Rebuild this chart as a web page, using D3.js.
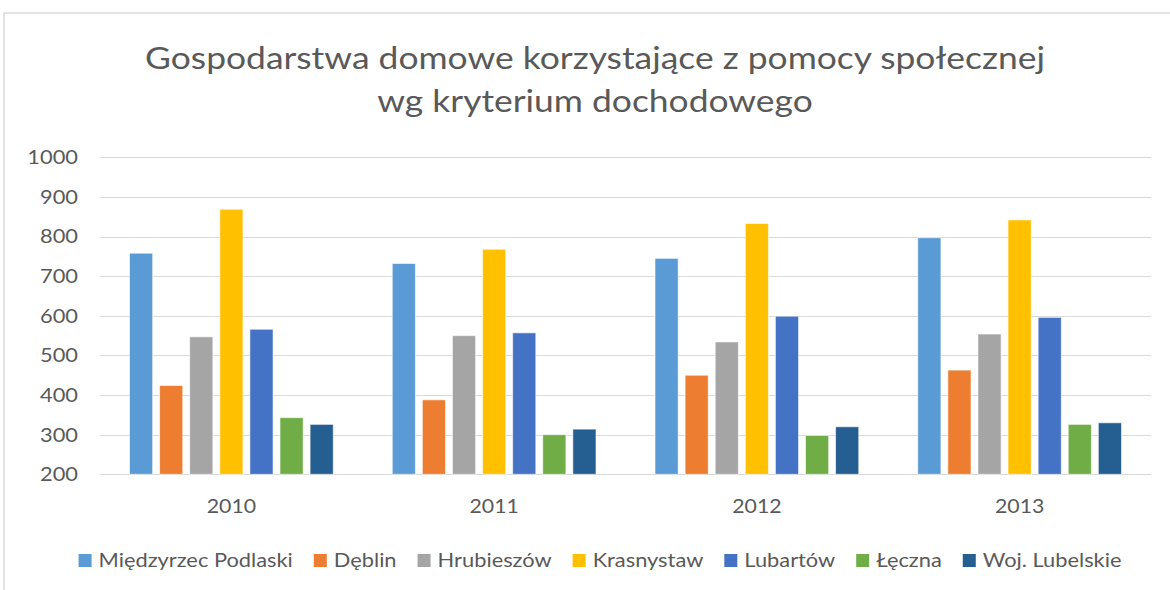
<!DOCTYPE html>
<html>
<head>
<meta charset="utf-8">
<script src="https://cdn.jsdelivr.net/npm/d3@7"></script>
<style>
  body { margin: 0; background: #fff; }
  svg { display: block; font-family: Lato, "Open Sans", sans-serif; }
  .grid line { stroke: #d9d9d9; stroke-width: 1; }
  .lbl { fill: #595959; }
</style>
</head>
<body>
<svg id="chart" width="1170" height="590"></svg>
<script>
const years = ['2010', '2011', '2012', '2013']
const series = ['Międzyrzec Podlaski', 'Dęblin', 'Hrubieszów', 'Krasnystaw', 'Lubartów', 'Łęczna', 'Woj. Lubelskie']
const colors = ['#5b9bd5', '#ed7d31', '#a5a5a5', '#ffc000', '#4472c4', '#70ad47', '#255e91']

// values per series, one per year
const miedzyrzec = [758, 732, 745, 797]
const deblin = [424, 388, 450, 463]
const hrubieszow = [547, 550, 534, 554]
const krasnystaw = [869, 768, 833, 842]
const lubartow = [566, 557, 599, 596]
const leczna = [343, 300, 298, 326]
const wojLubelskie = [326, 314, 320, 330]
const yTicks = [200, 300, 400, 500, 600, 700, 800, 900, 1000]

const values = [miedzyrzec, deblin, hrubieszow, krasnystaw, lubartow, leczna, wojLubelskie]
const title = ['Gospodarstwa domowe korzystające z pomocy społecznej', 'wg kryterium dochodowego']

const SX = 1.12 // the picture's text is a bit wider than the fonts here

const svg = d3.select('#chart')

svg.append('rect')
    .attr('x', 4).attr('y', 13)
    .attr('width', 1300).attr('height', 700)
    .attr('fill', 'none')
    .attr('stroke', '#d9d9d9')
    .attr('stroke-width', 1.5)

const plotLeft = 100, plotRight = 1151, plotTop = 157.3, plotBottom = 474.3

const y = d3.scaleLinear().domain([200, 1000]).range([plotBottom, plotTop])
const x0 = d3.scaleBand().domain(years).range([plotLeft, plotRight])
const x1 = d3.scaleBand().domain(series).range([0, x0.bandwidth()])
    .paddingInner(0.23).paddingOuter(0.98)

function stretchText(sel, tx, ty) {
    sel.attr('transform', (d, i) => `translate(${tx(d, i)},${ty(d, i)}) scale(${SX},1)`)
}

// gridlines
svg.append('g').attr('class', 'grid')
    .selectAll('line')
    .data(yTicks)
    .enter().append('line')
    .attr('x1', plotLeft).attr('x2', plotRight)
    .attr('y1', d => Math.round(y(d)) + 0.5)
    .attr('y2', d => Math.round(y(d)) + 0.5)

// y labels
svg.append('g')
    .selectAll('text')
    .data(yTicks)
    .enter().append('text')
    .attr('class', 'lbl')
    .attr('text-anchor', 'end')
    .attr('font-size', 19.5)
    .attr('dy', '0.35em')
    .text(d => d)
    .call(stretchText, () => 78, d => y(d))

// bars
const groups = svg.append('g')
    .selectAll('g')
    .data(years)
    .enter().append('g')
    .attr('transform', d => `translate(${x0(d)},0)`)

groups.selectAll('rect')
    .data((yr, yi) => series.map((s, si) => ({ s, si, v: values[si][yi] })))
    .enter().append('rect')
    .attr('x', d => x1(d.s))
    .attr('width', x1.bandwidth())
    .attr('y', d => y(d.v))
    .attr('height', d => plotBottom - y(d.v))
    .attr('fill', d => colors[d.si])
    .attr('stroke', '#fff')
    .attr('stroke-opacity', 0.6)
    .attr('stroke-width', 1)

// x labels
svg.append('g')
    .selectAll('text')
    .data(years)
    .enter().append('text')
    .attr('class', 'lbl')
    .attr('text-anchor', 'middle')
    .attr('font-size', 19)
    .text(d => d)
    .call(stretchText, d => x0(d) + x0.bandwidth() / 2, () => 513)

// title, sized so the first line is as wide as in the picture
const titleText = svg.append('g')
    .selectAll('text')
    .data(title)
    .enter().append('text')
    .attr('class', 'lbl')
    .attr('text-anchor', 'middle')
    .attr('font-size', 30)
    .text(d => d)
    .call(stretchText, () => 595, (d, i) => 69 + i * 43)

const w0 = titleText.node().getComputedTextLength() * SX
titleText.attr('font-size', 30 * 900 / w0)

// legend
const legend = svg.append('g')
const items = legend.selectAll('g')
    .data(series)
    .enter().append('g')

items.append('rect')
    .attr('width', 13).attr('height', 13)
    .attr('y', -13)
    .attr('fill', (d, i) => colors[i])

items.append('text')
    .attr('class', 'lbl')
    .attr('font-size', 19.5)
    .text(d => d)
    .call(stretchText, () => 20, () => 0)

let pos = 0
items.each(function () {
    const w = this.querySelector('text').getComputedTextLength() * SX
    this.__x = pos
    pos += 20 + w + 21
})
const legendWidth = pos - 21
const legendLeft = 600 - legendWidth / 2
items.attr('transform', function () { return `translate(${legendLeft + this.__x},567)` })
</script>
</body>
</html>
